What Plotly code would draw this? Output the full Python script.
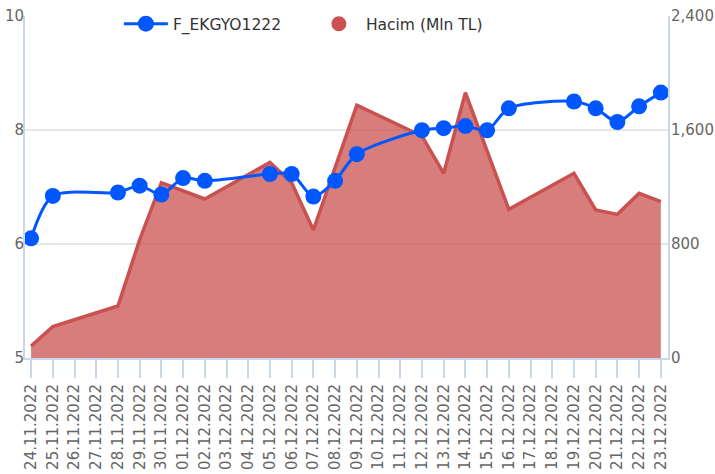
import plotly.graph_objects as go

dates = ['24.11.2022', '25.11.2022', '26.11.2022', '27.11.2022', '28.11.2022',
         '29.11.2022', '30.11.2022', '01.12.2022', '02.12.2022', '03.12.2022',
         '04.12.2022', '05.12.2022', '06.12.2022', '07.12.2022', '08.12.2022',
         '09.12.2022', '10.12.2022', '11.12.2022', '12.12.2022', '13.12.2022',
         '14.12.2022', '15.12.2022', '16.12.2022', '17.12.2022', '18.12.2022',
         '19.12.2022', '20.12.2022', '21.12.2022', '22.12.2022', '23.12.2022']

price = [6.75, 7.37, None, None, 7.42, 7.52, 7.39, 7.63, 7.59, None,
         None, 7.69, 7.69, 7.36, 7.59, 7.98, None, None, 8.33, 8.36,
         8.39, 8.33, 8.65, None, None, 8.75, 8.65, 8.45, 8.68, 8.88]

volume = [84, 220, None, None, 365, 830, 1230, 1174, 1116, None,
          None, 1373, 1230, 898, 1330, 1775, None, None, 1558, 1296,
          1862, 1453, 1043, None, None, 1296, 1039, 1008, 1156, 1097]

left_ticks = [5, 6.6667, 8.3333, 10]
left_labels = ['5', '6', '8', '10']
right_ticks = [0, 800, 1600, 2400]

price_name = 'F_EKGYO1222'
volume_name = 'Hacim (Mln TL)'

idx = list(range(len(dates)))
BLUE = '#0057ff'
RED = 'rgb(201,82,80)'
FONT = 'DejaVu Sans'

fig = go.Figure()
fig.add_trace(go.Scatter(
    x=idx, y=volume, yaxis='y', mode='lines', connectgaps=True,
    line=dict(color=RED, width=3.5), fill='tozeroy',
    fillcolor='rgba(201,82,80,0.75)', showlegend=False, name=volume_name))
fig.add_trace(go.Scatter(
    x=idx, y=price, yaxis='y2', mode='lines+markers', connectgaps=True,
    line=dict(color=BLUE, width=3, shape='spline', smoothing=0.8),
    marker=dict(color=BLUE, size=16), name=price_name))
fig.add_trace(go.Scatter(
    x=[None], y=[None], yaxis='y', mode='markers',
    marker=dict(color=RED, size=15), name=volume_name))

fig.update_layout(
    width=715, height=474,
    margin=dict(l=25, r=47, t=16, b=116, autoexpand=False),
    paper_bgcolor='white', plot_bgcolor='white',
    font=dict(family=FONT, size=15, color='#666666'),
    xaxis=dict(
        range=[-0.28, 29.33], tickmode='array', tickvals=idx, ticktext=dates,
        tickangle=-90, ticks='outside', ticklen=18, tickwidth=2,
        tickcolor='#ccd6eb', showline=True, linecolor='#ccd6eb', linewidth=2,
        showgrid=False, zeroline=False, automargin=False,
        tickfont=dict(family=FONT, size=15, color='#666666')),
    yaxis=dict(
        side='right', range=[0, 2400], tickmode='array', tickvals=right_ticks,
        tickformat=',d', showgrid=True, gridcolor='#e6e6e6', gridwidth=2,
        showline=True, linecolor='#ccd6eb', linewidth=2, zeroline=False,
        ticks='', automargin=False, ticklabelstandoff=-2,
        tickfont=dict(family=FONT, size=15, color='#666666')),
    yaxis2=dict(
        side='left', overlaying='y', range=[5, 10], tickmode='array',
        tickvals=left_ticks, ticktext=left_labels, showgrid=False,
        showline=True, linecolor='#ccd6eb', linewidth=2, zeroline=False,
        ticks='', automargin=False, ticklabelstandoff=-4,
        tickfont=dict(family=FONT, size=15, color='#666666')),
    legend=dict(
        orientation='h', x=0.146, xanchor='left',
        yref='container', y=0.985, yanchor='top',
        bgcolor='rgba(0,0,0,0)', itemwidth=44,
        entrywidth=134, entrywidthmode='pixels',
        font=dict(family=FONT, size=15.5, color='#333333')),
)

fig.write_html('out.html', config={'displayModeBar': False},
               post_script="document.body.style.margin='0px';")
